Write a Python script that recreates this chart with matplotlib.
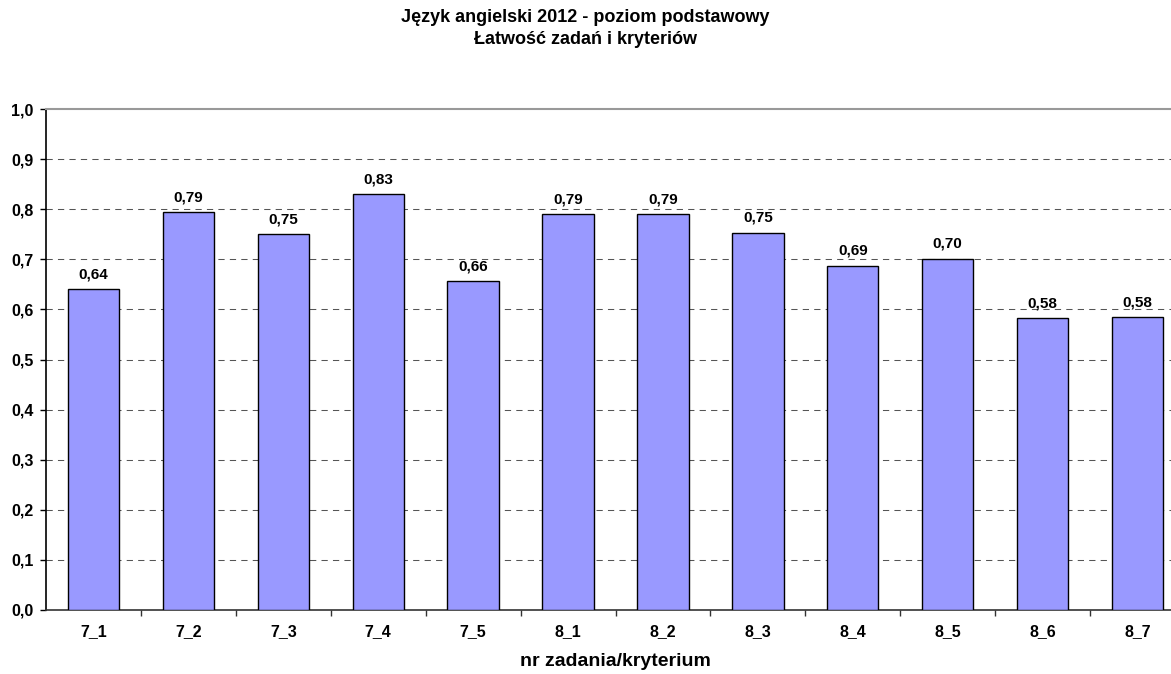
import numpy as np
import matplotlib.pyplot as plt

# łatwość zadań i kryteriów
kryteria = ['7_1', '7_2', '7_3', '7_4', '7_5', '8_1', '8_2', '8_3', '8_4', '8_5', '8_6', '8_7']
latwosc = [0.640, 0.794, 0.750, 0.830, 0.656, 0.790, 0.790, 0.753, 0.687, 0.701, 0.582, 0.584]

plt.rcParams['font.family'] = ['Liberation Sans', 'DejaVu Sans']
plt.rcParams['font.weight'] = 'bold'

fig = plt.figure(figsize=(11.71, 6.74), dpi=100)
ax = fig.add_axes([46 / 1171, 64 / 674, 1139 / 1171, 501 / 674])

x = np.arange(len(kryteria))
bars = ax.bar(x, latwosc, width=0.54, color='#9999FF', edgecolor='black', linewidth=1.0, zorder=3)

for xi, v in zip(x, latwosc):
    ax.annotate(f'{v:.2f}'.replace('.', ','), (xi, v), xytext=(0, 8), textcoords='offset points',
                ha='center', va='baseline', fontsize=11, fontweight='bold', zorder=4)

ax.set_xlim(-0.5, len(kryteria) - 0.5)
ax.set_ylim(0, 1.0)

# osie w stylu arkusza
yt = np.round(np.arange(0, 1.01, 0.1), 1)
ax.set_yticks(yt)
ax.set_yticklabels([f'{t:.1f}'.replace('.', ',') for t in yt], fontsize=11.5, fontweight='bold')
for t in yt[1:-1]:
    ax.axhline(t, color='#555555', linewidth=0.75, linestyle=(0, (6, 5)), zorder=1)

ax.set_xticks(x)
ax.set_xticklabels(kryteria, fontsize=11.5, fontweight='bold')
ax.set_xticks(np.arange(0.5, len(kryteria) - 0.5), minor=True)
ax.tick_params(axis='x', which='major', length=0, pad=10)
ax.tick_params(axis='x', which='minor', length=4, width=1, direction='out', color='#333333')
ax.tick_params(axis='y', length=4, width=1, direction='out', pad=5)

ax.spines['top'].set_color('#999999')
ax.spines['top'].set_linewidth(1.5)
ax.spines['right'].set_visible(False)
ax.spines['left'].set_linewidth(1.2)
ax.spines['bottom'].set_color('#333333')
ax.spines['bottom'].set_linewidth(1.2)

ax.set_xlabel('nr zadania/kryterium', fontsize=14, fontweight='bold', labelpad=10)

fig.text(0.5, 1 - 18 / 674, 'Język angielski 2012 - poziom podstawowy', ha='center', va='center',
         fontsize=13, fontweight='bold')
fig.text(0.5, 1 - 39 / 674, 'Łatwość zadań i kryteriów', ha='center', va='center',
         fontsize=13, fontweight='bold')

fig.savefig('out.png', dpi=100)
